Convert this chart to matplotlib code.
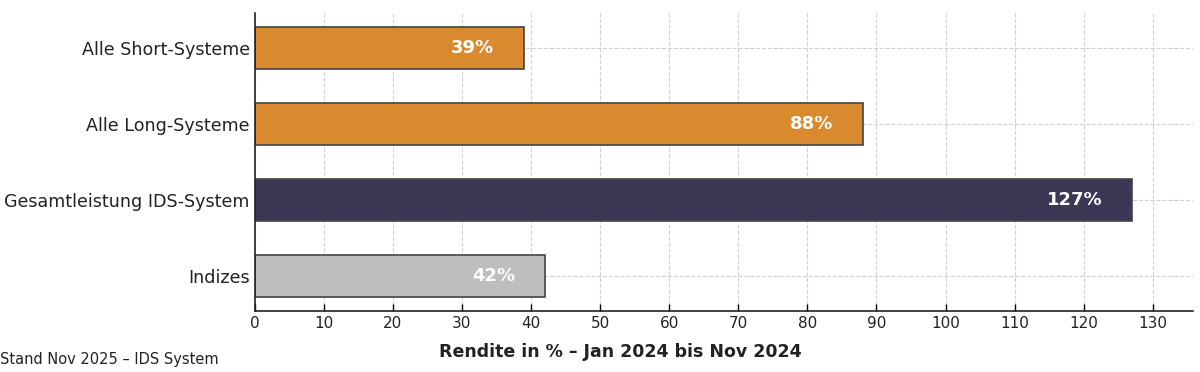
import matplotlib
matplotlib.use("Agg")
import matplotlib.pyplot as plt

# data
categories = ["Alle Short-Systeme", "Alle Long-Systeme", "Gesamtleistung IDS-System", "Indizes"]
values = [39, 88, 127, 42]
bar_colors = ["#d98a2e", "#d98a2e", "#3d3655", "#bebebe"]
xticks = list(range(0, 131, 10))

fig = plt.figure(figsize=(12, 3.72), dpi=100)
ax = fig.add_axes([254.5 / 1200, 1 - 311 / 372, (1193 - 254.5) / 1200, (311 - 13) / 372])

pos = list(range(len(categories)))[::-1]
ax.barh(pos, values, height=0.55, color=bar_colors, edgecolor="#444444", linewidth=1.2, zorder=2)

#### value labels inside the bars
for p, v in zip(pos, values):
    ax.text(v - 4.3, p, f"{v}%", ha="right", va="center", color="white",
            fontsize=13, fontweight="bold", zorder=3)

ax.set_yticks(pos)
ax.set_yticklabels(categories, fontsize=12.6, color="#222222")
ax.set_xticks(xticks)
ax.tick_params(axis="x", labelsize=11, direction="in", length=5, width=1, labelcolor="#222222")
ax.tick_params(axis="y", direction="in", length=5, width=1)
ax.set_xlim(0, 135.8)

ax.grid(True, linestyle="--", color="#d0d0d0", linewidth=0.8, zorder=0)
ax.set_axisbelow(True)
for s in ["top", "right"]:
    ax.spines[s].set_visible(False)
for s in ["left", "bottom"]:
    ax.spines[s].set_linewidth(1.2)
    ax.spines[s].set_color("#222222")

fig.text(620 / 1200, 1 - 352 / 372, "Rendite in % – Jan 2024 bis Nov 2024", fontsize=12.5,
         fontweight="bold", color="#222222", ha="center", va="center")

fig.text(0.0, 1 - 364 / 372, "Stand Nov 2025 – IDS System", fontsize=10.5, ha="left", va="baseline", color="#222222")

fig.savefig("out.png", dpi=100)
